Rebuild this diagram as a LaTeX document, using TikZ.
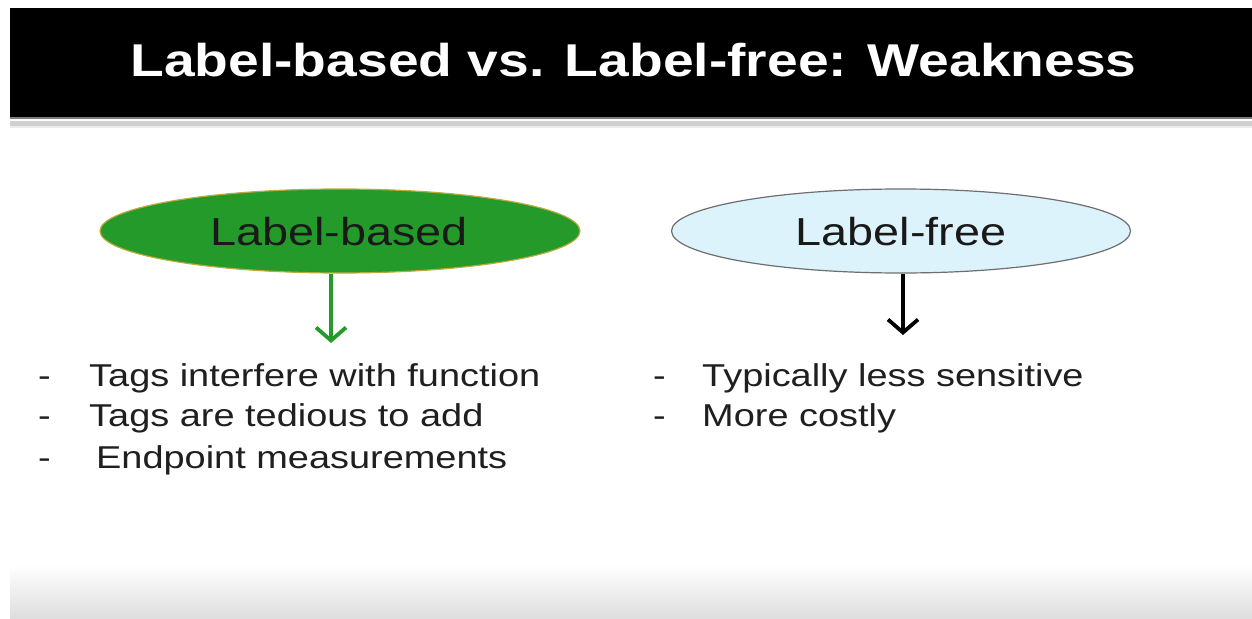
\documentclass[tikz,border=0pt]{standalone}
\usepackage{fontspec}
\setmainfont{Liberation Sans}
\usepackage{graphicx}
\usetikzlibrary{shapes.geometric,arrows.meta}
\definecolor{lbgreen}{RGB}{36,154,42}
\definecolor{lbedge}{RGB}{190,170,60}
\definecolor{lfblue}{RGB}{221,243,251}
\definecolor{lfedge}{RGB}{110,110,110}
\definecolor{stripedark}{RGB}{125,125,125}
\definecolor{stripelight}{RGB}{208,208,208}
\definecolor{stripepale}{RGB}{236,236,236}
\definecolor{bottomgray}{RGB}{222,222,222}
\newcommand{\stretchtxt}[1]{\scalebox{1.2}[1]{#1}}
\begin{document}
\begin{tikzpicture}[x=1pt,y=-1pt,
  titletext/.style={font=\fontsize{46}{50}\selectfont\bfseries, text=white, inner sep=0pt, anchor=base},
  oval/.style={ellipse, minimum width=#1, minimum height=84pt, inner sep=0pt, line width=1.2pt},
  ovaltext/.style={font=\fontsize{39}{44}\selectfont, text=black!90},
  bullettext/.style={font=\fontsize{31.6}{36}\selectfont, text=black!88, inner sep=0pt, anchor=base west},
  linkarrow/.style={line width=3.6pt, -{Straight Barb[length=13pt,width=30pt,line width=3.8pt]}}
]
\useasboundingbox (0,0) rectangle (1252,618);
\fill[white] (0,0) rectangle (1252,618);
% header bar
\fill[black] (10,8) rectangle (1252,117);
\fill[stripedark] (10,117) rectangle (1252,119);
\fill[stripelight] (10,121) rectangle (1252,125.5);
\fill[stripepale] (10,125.5) rectangle (1252,128);
% bottom fade
\shade[top color=white, bottom color=bottomgray] (10,565) rectangle (1252,618);

\node[titletext] (title) at (633.5,77) {\stretchtxt{Label-based vs. Label-free: Weakness}};

% ovals
\node[oval=480pt, fill=lbgreen, draw=lbedge] (lb) at (340,231) {};
\node[ovaltext, anchor=base, inner sep=0pt] (lbt) at (339,245) {\stretchtxt{Label-based}};
\node[oval=459pt, fill=lfblue, draw=lfedge] (lf) at (901,231) {};
\node[ovaltext, anchor=base, inner sep=0pt] (lft) at (901,245) {\stretchtxt{Label-free}};

% arrows
\coordinate (ga) at (331,343);
\coordinate (ba) at (903,335);
\draw[linkarrow, draw=lbgreen] (lb.south -| ga) -- (ga);
\draw[linkarrow, draw=black] (lf.south -| ba) -- (ba);

% left bullets
\node[bullettext] (d1) at (38,386) {\stretchtxt{-}};
\node[bullettext] (b1) at (89,386) {\stretchtxt{Tags interfere with function}};
\node[bullettext] (d2) at (38,426) {\stretchtxt{-}};
\node[bullettext] (b2) at (89,426) {\stretchtxt{Tags are tedious to add}};
\node[bullettext] (d3) at (38,468) {\stretchtxt{-}};
\node[bullettext] (b3) at (96,468) {\stretchtxt{Endpoint measurements}};

% right bullets
\node[bullettext] (d4) at (653,386) {\stretchtxt{-}};
\node[bullettext] (r1) at (702,386) {\stretchtxt{Typically less sensitive}};
\node[bullettext] (d5) at (653,426) {\stretchtxt{-}};
\node[bullettext] (r2) at (702,426) {\stretchtxt{More costly}};
\end{tikzpicture}
\end{document}
